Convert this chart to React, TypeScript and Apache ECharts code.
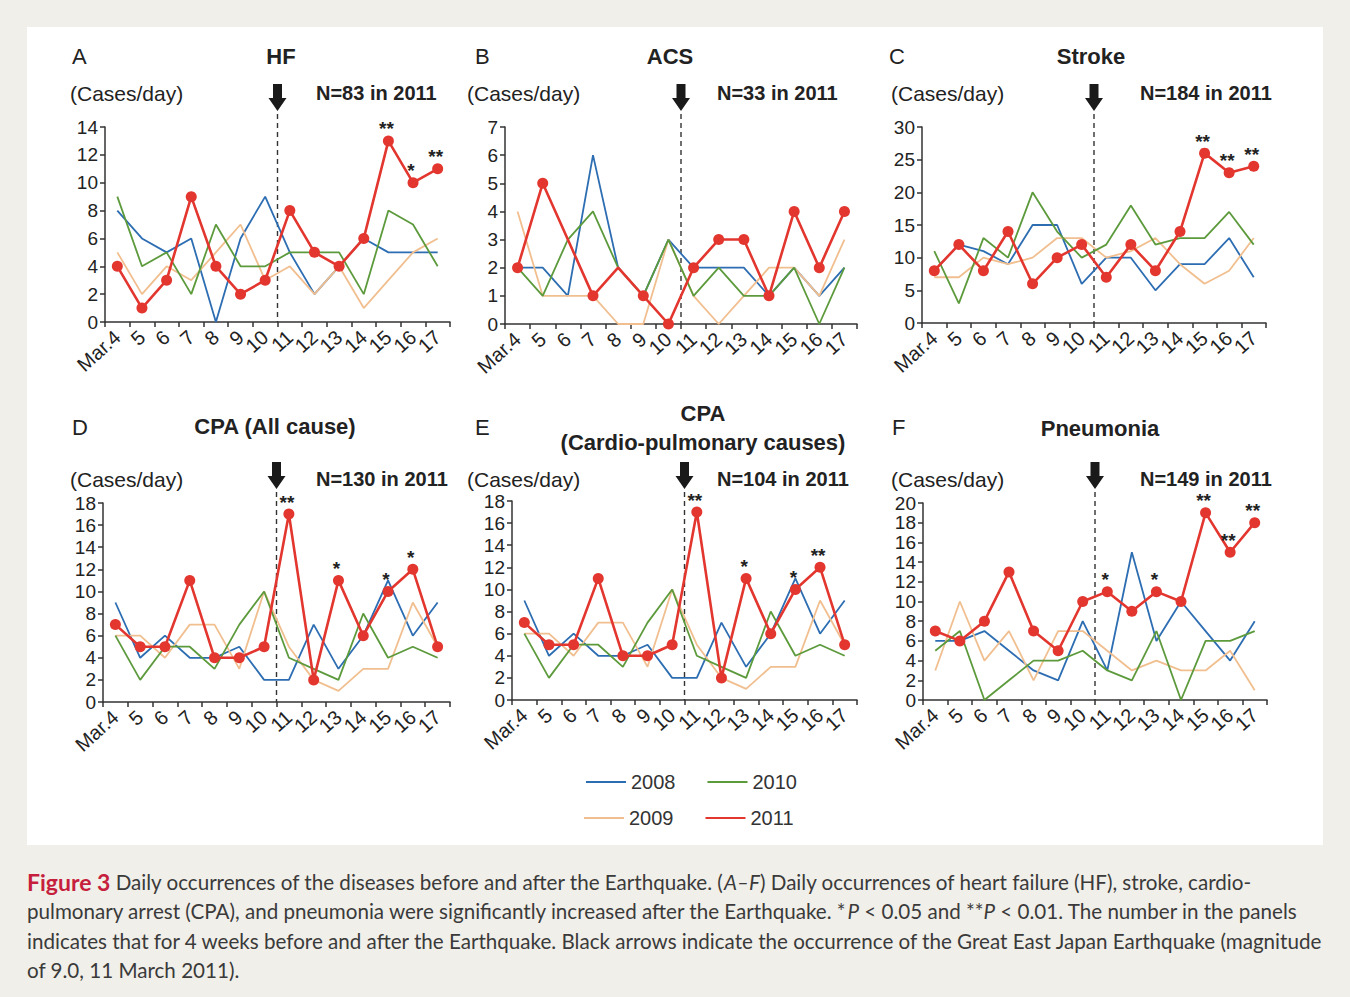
import React, { useEffect, useRef } from "react";
import * as echarts from "echarts";

// ---------- data ----------
const categories = ["Mar.4", "5", "6", "7", "8", "9", "10", "11", "12", "13", "14", "15", "16", "17"];
const years = ["2008", "2009", "2010", "2011"];

const hf2008 = [8, 6, 5, 6, 0, 6, 9, 5, 2, 4, 6, 5, 5, 5];
const hf2009 = [5, 2, 4, 3, 5, 7, 3, 4, 2, 4, 1, 3, 5, 6];
const hf2010 = [9, 4, 5, 2, 7, 4, 4, 5, 5, 5, 2, 8, 7, 4];
const hf2011 = [4, 1, 3, 9, 4, 2, 3, 8, 5, 4, 6, 13, 10, 11];
const hfStars = ["", "", "", "", "", "", "", "", "", "", "", "**", "*", "**"];

const acs2008 = [2, 2, 1, 6, 2, 1, 3, 2, 2, 2, 1, 2, 1, 2];
const acs2009 = [4, 1, 1, 1, 0, 0, 3, 1, 0, 1, 2, 2, 1, 3];
const acs2010 = [2, 1, 3, 4, 2, 1, 3, 1, 2, 1, 1, 2, 0, 2];
const acs2011 = [2, 5, 3, 1, 2, 1, 0, 2, 3, 3, 1, 4, 2, 4];
const acsStars = ["", "", "", "", "", "", "", "", "", "", "", "", "", ""];
const acsNoMarker = [2, 4];

const stroke2008 = [8, 12, 11, 9, 15, 15, 6, 10, 10, 5, 9, 9, 13, 7];
const stroke2009 = [7, 7, 10, 9, 10, 13, 13, 10, 11, 13, 9, 6, 8, 13];
const stroke2010 = [11, 3, 13, 10, 20, 14, 10, 12, 18, 12, 13, 13, 17, 12];
const stroke2011 = [8, 12, 8, 14, 6, 10, 12, 7, 12, 8, 14, 26, 23, 24];
const strokeStars = ["", "", "", "", "", "", "", "", "", "", "", "**", "**", "**"];

const cpaAll2008 = [9, 4, 6, 4, 4, 5, 2, 2, 7, 3, 6, 11, 6, 9];
const cpaAll2009 = [6, 6, 4, 7, 7, 3, 10, 5, 2, 1, 3, 3, 9, 5];
const cpaAll2010 = [6, 2, 5, 5, 3, 7, 10, 4, 3, 2, 8, 4, 5, 4];
const cpaAll2011 = [7, 5, 5, 11, 4, 4, 5, 17, 2, 11, 6, 10, 12, 5];
const cpaAllStars = ["", "", "", "", "", "", "", "**", "", "*", "", "*", "*", ""];

const cpaCp2008 = [9, 4, 6, 4, 4, 5, 2, 2, 7, 3, 6, 11, 6, 9];
const cpaCp2009 = [6, 6, 4, 7, 7, 3, 10, 5, 2, 1, 3, 3, 9, 5];
const cpaCp2010 = [6, 2, 5, 5, 3, 7, 10, 4, 3, 2, 8, 4, 5, 4];
const cpaCp2011 = [7, 5, 5, 11, 4, 4, 5, 17, 2, 11, 6, 10, 12, 5];
const cpaCpStars = ["", "", "", "", "", "", "", "**", "", "*", "", "*", "**", ""];

const pneu2008 = [6, 6, 7, 5, 3, 2, 8, 3, 15, 6, 10, 7, 4, 8];
const pneu2009 = [3, 10, 4, 7, 2, 7, 7, 5, 3, 4, 3, 3, 5, 1];
const pneu2010 = [5, 7, 0, 2, 4, 4, 5, 3, 2, 7, 0, 6, 6, 7];
const pneu2011 = [7, 6, 8, 13, 7, 5, 10, 11, 9, 11, 10, 19, 15, 18];
const pneuStars = ["", "", "", "", "", "", "", "*", "", "*", "", "**", "**", "**"];

const panelLetters = ["A", "B", "C", "D", "E", "F"];
const panelTitles = ["HF", "ACS", "Stroke", "CPA (All cause)", "CPA\n(Cardio-pulmonary causes)", "Pneumonia"];
const panelN = ["N=83 in 2011", "N=33 in 2011", "N=184 in 2011", "N=130 in 2011", "N=104 in 2011", "N=149 in 2011"];
const yMax = [14, 7, 30, 18, 18, 20];
const yInterval = [2, 1, 5, 2, 2, 2];
const seriesData = [
  [hf2008, hf2009, hf2010, hf2011],
  [acs2008, acs2009, acs2010, acs2011],
  [stroke2008, stroke2009, stroke2010, stroke2011],
  [cpaAll2008, cpaAll2009, cpaAll2010, cpaAll2011],
  [cpaCp2008, cpaCp2009, cpaCp2010, cpaCp2011],
  [pneu2008, pneu2009, pneu2010, pneu2011],
];
const starData = [hfStars, acsStars, strokeStars, cpaAllStars, cpaCpStars, pneuStars];
const noMarker = [[], acsNoMarker, [], [], [], []];

// ---------- layout / style ----------
const W = 1350;
const H = 997;
const FONT = "'Liberation Sans', Arial, Helvetica, sans-serif";
const CAP_FONT = "Lato, 'Open Sans', sans-serif";
const colors = ["#2d6db2", "#f1bf8f", "#5c9a3c", "#e2362f"];
const grids = [
  { left: 105, top: 127, width: 345, height: 195 },
  { left: 505, top: 127, width: 352, height: 197 },
  { left: 922, top: 127, width: 344, height: 196 },
  { left: 103, top: 503, width: 347, height: 199 },
  { left: 512, top: 501, width: 345, height: 199 },
  { left: 923, top: 503, width: 344, height: 197 },
];
const letterPos = [
  [72, 56], [475, 56], [889, 56], [72, 427], [475, 427], [892, 427],
];
const titlePos = [
  [281, 56], [670, 56], [1091, 56], [275, 426], [703, 428], [1100, 428],
];
const casesPos = [
  [70, 93], [467, 93], [891, 93], [70, 479], [467, 479], [891, 479],
];
const nPos = [
  [316, 93], [717, 93], [1140, 93], [316, 479], [717, 479], [1140, 479],
];
const arrowTop = [84, 84, 84, 462, 462, 462];

export default function App() {
  const ref = useRef<HTMLDivElement>(null);

  useEffect(() => {
    document.body.style.margin = "0";
    const chart = echarts.init(ref.current!, null, { renderer: "svg" });

    const series: any[] = [];
    seriesData.forEach((panel, pi) => {
      panel.forEach((vals, yi) => {
        const isRed = yi === 3;
        series.push({
          type: "line",
          name: years[yi],
          xAxisIndex: pi,
          yAxisIndex: pi,
          color: colors[yi],
          z: 2 + yi,
          symbol: isRed ? "circle" : "none",
          symbolSize: 11,
          showSymbol: isRed,
          lineStyle: { width: isRed ? 2.6 : 1.8, color: colors[yi] },
          itemStyle: { color: colors[yi] },
          emphasis: { disabled: true },
          data: vals.map((v, ci) => {
            const item: any = { value: v };
            if (isRed) {
              const s = starData[pi][ci];
              if (s) {
                item.label = {
                  show: true,
                  formatter: s,
                  position: "top",
                  distance: 0,
                  offset: [-2, 3],
                  fontSize: 19,
                  fontWeight: "bold",
                  fontFamily: FONT,
                  color: "#222",
                };
              }
              if (noMarker[pi].includes(ci)) item.symbolSize = 0;
            }
            return item;
          }),
        });
      });
    });

    const legendText = { fontSize: 20, color: "#333", fontFamily: FONT };
    const option: any = {
      animation: false,
      backgroundColor: "#f1efe9",
      textStyle: { fontFamily: FONT },
      grid: grids.map((g) => ({ ...g, containLabel: false })),
      xAxis: grids.map((_, i) => ({
        type: "category",
        gridIndex: i,
        data: categories,
        boundaryGap: true,
        axisLine: { lineStyle: { color: "#333", width: 1.5 } },
        axisTick: { show: true, length: 5, lineStyle: { color: "#333", width: 1.5 } },
        axisLabel: { rotate: 42, interval: 0, fontSize: 20, color: "#222", margin: 12, fontFamily: FONT },
        splitLine: { show: false },
      })),
      yAxis: grids.map((_, i) => ({
        type: "value",
        gridIndex: i,
        min: 0,
        max: yMax[i],
        interval: yInterval[i],
        axisLine: { show: true, lineStyle: { color: "#333", width: 1.5 } },
        axisTick: { show: true, length: 5, lineStyle: { color: "#333", width: 1.5 } },
        axisLabel: { fontSize: 19, color: "#222", margin: 7, fontFamily: FONT },
        splitLine: { show: false },
      })),
      legend: [
        {
          data: ["2008", "2010"],
          left: 586,
          top: 772,
          padding: 0,
          icon: "rect",
          itemWidth: 40,
          itemHeight: 2,
          itemGap: 32,
          selectedMode: false,
          textStyle: legendText,
        },
        {
          data: ["2009", "2011"],
          left: 584,
          top: 808,
          padding: 0,
          icon: "rect",
          itemWidth: 40,
          itemHeight: 2,
          itemGap: 32,
          selectedMode: false,
          textStyle: legendText,
        },
      ],
      series,
    };
    chart.setOption(option);

    const g: any[] = [];
    g.push({
      type: "rect",
      z: -10,
      silent: true,
      shape: { x: 27, y: 27, width: 1296, height: 818 },
      style: { fill: "#ffffff" },
    });

    grids.forEach((_, i) => {
      const x10 = chart.convertToPixel({ xAxisIndex: i } as any, "10") as any as number;
      const x11 = chart.convertToPixel({ xAxisIndex: i } as any, "11") as any as number;
      const xm = (x10 + x11) / 2;
      const y0 = chart.convertToPixel({ yAxisIndex: i } as any, 0) as any as number;
      const at = arrowTop[i];
      g.push({
        type: "polygon",
        silent: true,
        shape: {
          points: [
            [xm - 4.5, at],
            [xm + 4.5, at],
            [xm + 4.5, at + 14],
            [xm + 9, at + 14],
            [xm, at + 27],
            [xm - 9, at + 14],
            [xm - 4.5, at + 14],
          ],
        },
        style: { fill: "#1a1a1a" },
      });
      g.push({
        type: "line",
        silent: true,
        z: 1,
        shape: { x1: xm, y1: at + 30, x2: xm, y2: y0 },
        style: { stroke: "#333", lineWidth: 1.4, lineDash: [5, 4] },
      });
      g.push({
        type: "text",
        silent: true,
        style: {
          text: panelLetters[i],
          x: letterPos[i][0],
          y: letterPos[i][1],
          fill: "#222",
          font: `22px ${FONT}`,
          align: "left",
          verticalAlign: "middle",
        },
      });
      g.push({
        type: "text",
        silent: true,
        style: {
          text: panelTitles[i],
          x: titlePos[i][0],
          y: titlePos[i][1],
          fill: "#222",
          font: `bold 22px ${FONT}`,
          lineHeight: 29,
          align: "center",
          verticalAlign: "middle",
        },
      });
      g.push({
        type: "text",
        silent: true,
        style: {
          text: "(Cases/day)",
          x: casesPos[i][0],
          y: casesPos[i][1],
          fill: "#222",
          font: `21px ${FONT}`,
          align: "left",
          verticalAlign: "middle",
        },
      });
      g.push({
        type: "text",
        silent: true,
        style: {
          text: panelN[i],
          x: nPos[i][0],
          y: nPos[i][1],
          fill: "#222",
          font: `bold 20px ${FONT}`,
          align: "left",
          verticalAlign: "middle",
        },
      });
    });

    const capRich = {
      b: { fontFamily: CAP_FONT, fontSize: 23, fontWeight: "bold", fill: "#c61f3e", color: "#c61f3e" },
      i: { fontFamily: CAP_FONT, fontSize: 20.6, fontStyle: "italic", fill: "#3a3a3a", color: "#3a3a3a" },
      n: { fontFamily: CAP_FONT, fontSize: 20.6, fill: "#3a3a3a", color: "#3a3a3a" },
    };
    const capLines = [
      "{b|Figure 3} {n|Daily occurrences of the diseases before and after the Earthquake. (}{i|A–F}{n|) Daily occurrences of heart failure (HF), stroke, cardio-}",
      "{n|pulmonary arrest (CPA), and pneumonia were significantly increased after the Earthquake. *}{i|P}{n| < 0.05 and **}{i|P}{n| < 0.01. The number in the panels}",
      "{n|indicates that for 4 weeks before and after the Earthquake. Black arrows indicate the occurrence of the Great East Japan Earthquake (magnitude}",
      "{n|of 9.0, 11 March 2011).}",
    ];
    const capY = [882, 911, 941, 970];
    capLines.forEach((t, k) => {
      g.push({
        type: "text",
        silent: true,
        style: {
          text: t,
          x: 27,
          y: capY[k],
          fill: "#3a3a3a",
          font: `20.6px ${CAP_FONT}`,
          align: "left",
          verticalAlign: "middle",
          rich: capRich,
        },
      });
    });

    chart.setOption({ graphic: g });

    return () => {
      chart.dispose();
    };
  }, []);

  return <div ref={ref} style={{ width: W, height: H }} />;
}
